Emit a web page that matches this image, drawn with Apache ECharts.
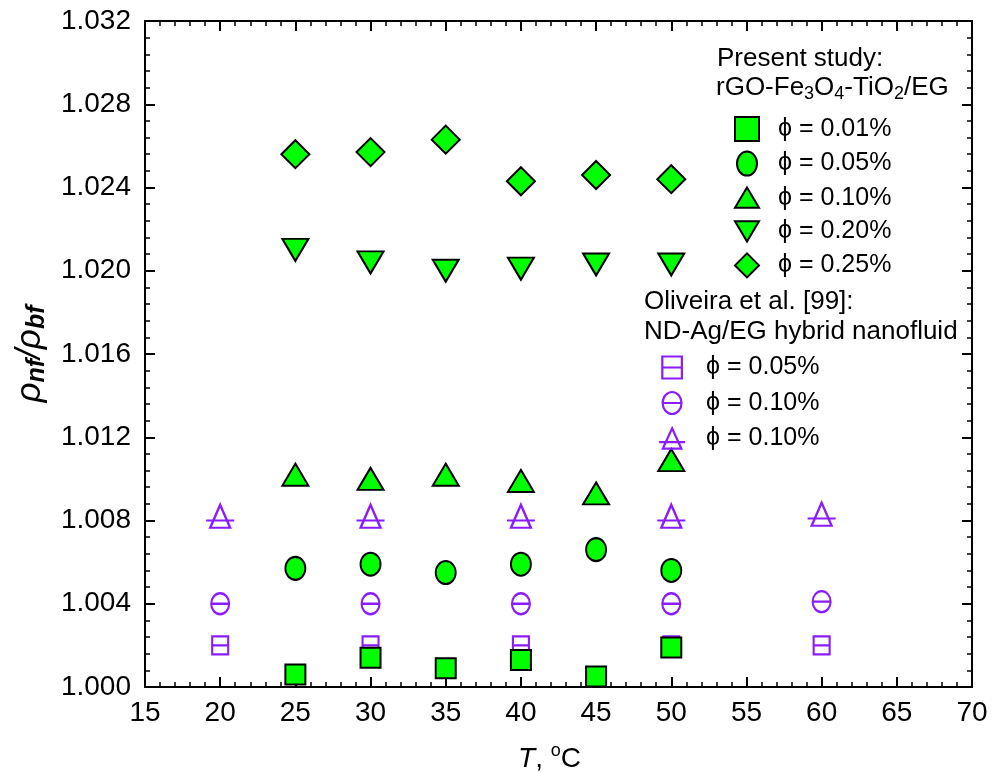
<!DOCTYPE html>
<html>
<head>
<meta charset="utf-8">
<script src="https://cdn.jsdelivr.net/npm/echarts@6/dist/echarts.min.js"></script>
<style>
  html, body { margin: 0; padding: 0; background: #ffffff; }
  #chart { width: 992px; height: 773px; }
</style>
</head>
<body>
<div id="chart"></div>
<script>
// Temperatures (°C) for the present rGO-Fe3O4-TiO2/EG measurements
const temps = [25, 30, 35, 40, 45, 50];
// Density ratio rho_nf / rho_bf per volume fraction
const phi001 = [1.0006, 1.0014, 1.0009, 1.0013, 1.0005, 1.0019];
const phi005 = [1.0057, 1.0059, 1.0055, 1.0059, 1.0066, 1.0056];
const phi010 = [1.0102, 1.0100, 1.0102, 1.0099, 1.0093, 1.0109];
const phi020 = [1.0210, 1.0204, 1.0200, 1.0201, 1.0203, 1.0203];
const phi025 = [1.0256, 1.0257, 1.0263, 1.0243, 1.0246, 1.0244];

// Oliveira et al. ND-Ag/EG hybrid nanofluid
const oliTemps = [20, 30, 40, 50, 60];
const oli005 = [1.0020, 1.0020, 1.0020, 1.0020, 1.0020];
const oli010a = [1.0040, 1.0040, 1.0040, 1.0040, 1.0041];
const oli010b = [1.0082, 1.0082, 1.0082, 1.0082, 1.0083];

// Axis ticks
const xTicks = { min: 15, max: 70, step: 5 };
const yTicks = { min: 1.000, max: 1.032, step: 0.004 };

// Legend labels
const presentLabels = ['ϕ = 0.01%', 'ϕ = 0.05%', 'ϕ = 0.10%', 'ϕ = 0.20%', 'ϕ = 0.25%'];
const oliveiraLabels = ['ϕ = 0.05%', 'ϕ = 0.10%', 'ϕ = 0.10%'];

const FONT = "'Liberation Sans', Arial, sans-serif";
const GREEN = '#00ff00';
const PURPLE = '#8a1cff';

const pairs = (xs, ys) => xs.map((x, i) => [x, ys[i]]);

// marker outlines
const ellipse = 'path://M0,12 A10,12 0 1,1 20,12 A10,12 0 1,1 0,12 Z';
const triUp = 'path://M13,0 L26,22 L0,22 Z';
const triDown = 'path://M0,0 L26,0 L13,22 Z';
const sqLine = 'path://M0,0 L16,0 L16,18 L0,18 Z M0,9 L16,9';
const circLine = 'path://M0,10.5 A9,10.5 0 1,1 18,10.5 A9,10.5 0 1,1 0,10.5 Z M0,10.5 L18,10.5';
const triLine = 'path://M14,0 L24,22 L4,22 Z M0,15 L28,15';

const greenStyle = { color: GREEN, borderColor: '#000', borderWidth: 2, opacity: 1 };
const purpleStyle = { color: 'rgba(0,0,0,0)', borderColor: PURPLE, borderWidth: 2.2, opacity: 1 };

const presentSeries = [
  { key: 'P1', data: phi001, symbol: 'rect', size: [20, 20] },
  { key: 'P2', data: phi005, symbol: ellipse, size: [20, 23] },
  { key: 'P3', data: phi010, symbol: triUp, size: [26, 22] },
  { key: 'P4', data: phi020, symbol: triDown, size: [26, 22] },
  { key: 'P5', data: phi025, symbol: 'diamond', size: [28, 28] }
];
const oliSeries = [
  { key: 'O1', data: oli005, symbol: sqLine, size: [16, 18] },
  { key: 'O2', data: oli010a, symbol: circLine, size: [18, 21] },
  { key: 'O3', data: oli010b, symbol: triLine, size: [28, 23] }
];

const series = [];
presentSeries.forEach((s, i) => {
  series.push({
    name: s.key + '|' + presentLabels[i],
    type: 'scatter',
    data: pairs(temps, s.data),
    symbol: s.symbol,
    symbolSize: s.size,
    itemStyle: greenStyle,
    emphasis: { disabled: true },
    z: 3
  });
});
oliSeries.forEach((s, i) => {
  series.push({
    name: s.key + '|' + oliveiraLabels[i],
    type: 'scatter',
    data: pairs(oliTemps, s.data),
    symbol: s.symbol,
    symbolSize: s.size,
    itemStyle: purpleStyle,
    emphasis: { disabled: true },
    z: 2
  });
});

const axisLine = { show: true, lineStyle: { color: '#000', width: 2 } };
const axisTick = { show: true, inside: true, length: 10, lineStyle: { color: '#000', width: 2 } };
const minorTick = (n) => ({ show: true, splitNumber: n, length: 5, lineStyle: { color: '#000', width: 1.5 } });

const labelText = (s) => s.split('|')[1];

const legendItems = (list, style) => list.map((s) => ({
  name: s.name,
  icon: s.symbol,
  itemStyle: style
}));

const chart = echarts.init(document.getElementById('chart'), null, { renderer: 'canvas' });
chart.setOption({
  animation: false,
  backgroundColor: '#fff',
  grid: { left: 145, right: 20, top: 21, bottom: 86, containLabel: false, outerBoundsMode: 'none' },
  xAxis: [
    {
      type: 'value', position: 'bottom',
      min: xTicks.min, max: xTicks.max, interval: xTicks.step,
      axisLine, axisTick, minorTick: minorTick(5), splitLine: { show: false },
      axisLabel: { fontFamily: FONT, fontSize: 28, color: '#000', margin: 12 },
      name: '{it|T}{n|, }{sup|o}{n|C}',
      nameLocation: 'middle', nameGap: 55,
      nameTextStyle: {
        fontFamily: FONT, color: '#000', padding: [0, 18, 0, 0],
        rich: {
          it: { fontFamily: FONT, fontSize: 28, fontStyle: 'italic', lineHeight: 34, color: '#000' },
          n: { fontFamily: FONT, fontSize: 28, lineHeight: 34, color: '#000' },
          sup: { fontFamily: FONT, fontSize: 18, lineHeight: 18, verticalAlign: 'top', color: '#000' }
        }
      }
    },
    {
      type: 'value', position: 'top',
      min: xTicks.min, max: xTicks.max, interval: xTicks.step,
      axisLine, axisTick, minorTick: minorTick(5), splitLine: { show: false },
      axisLabel: { show: false }
    }
  ],
  yAxis: [
    {
      type: 'value', position: 'left',
      min: yTicks.min, max: yTicks.max, interval: yTicks.step,
      axisLine, axisTick, minorTick: minorTick(5), splitLine: { show: false },
      axisLabel: {
        fontFamily: FONT, fontSize: 28, color: '#000', margin: 14,
        formatter: (v) => v.toFixed(3)
      },
      name: '{i|ρ}{s|nf}{i|/ρ}{s|bf}',
      nameLocation: 'middle', nameGap: 92, nameRotate: 90,
      nameTextStyle: {
        fontFamily: FONT, color: '#000',
        rich: {
          i: { fontFamily: FONT, fontSize: 35, fontStyle: 'italic', lineHeight: 40, color: '#000' },
          s: { fontFamily: FONT, fontSize: 25, fontStyle: 'italic', fontWeight: 'bold', lineHeight: 25, verticalAlign: 'bottom', color: '#000' }
        }
      }
    },
    {
      type: 'value', position: 'right',
      min: yTicks.min, max: yTicks.max, interval: yTicks.step,
      axisLine, axisTick, minorTick: minorTick(5), splitLine: { show: false },
      axisLabel: { show: false }
    }
  ],
  legend: [
    {
      orient: 'vertical', left: 734, top: 116, padding: 0,
      itemWidth: 24, itemHeight: 24, itemGap: 8.6,
      selectedMode: false,
      data: legendItems(presentSeries.map((s, i) => ({ name: series[i].name, symbol: s.symbol })), greenStyle),
      formatter: labelText,
      textStyle: { fontFamily: FONT, fontSize: 25, color: '#000', lineHeight: 24, padding: [0, 0, 0, 14] }
    },
    {
      orient: 'vertical', left: 658, top: 355, padding: 0,
      itemWidth: 26, itemHeight: 22, itemGap: 10.5,
      selectedMode: false,
      data: legendItems(oliSeries.map((s, i) => ({ name: series[5 + i].name, symbol: s.symbol })), purpleStyle),
      formatter: labelText,
      textStyle: { fontFamily: FONT, fontSize: 25, color: '#000', lineHeight: 22, padding: [0, 0, 0, 16] }
    }
  ],
  graphic: [
    {
      type: 'text', left: 717, top: 46,
      style: { text: 'Present study:', font: '26px ' + FONT, fill: '#000' }
    },
    {
      type: 'text', left: 716, top: 75,
      style: {
        text: '{n|rGO-Fe}{s|3}{n|O}{s|4}{n|-TiO}{s|2}{n|/EG}',
        rich: {
          n: { fontFamily: FONT, fontSize: 26, lineHeight: 30, fill: '#000' },
          s: { fontFamily: FONT, fontSize: 18, lineHeight: 16, verticalAlign: 'bottom', fill: '#000' }
        }
      }
    },
    {
      type: 'text', left: 644, top: 289,
      style: { text: 'Oliveira et al. [99]:', font: '26px ' + FONT, fill: '#000' }
    },
    {
      type: 'text', left: 644, top: 319,
      style: { text: 'ND-Ag/EG hybrid nanofluid', font: '26px ' + FONT, fill: '#000' }
    }
  ],
  series
});
</script>
</body>
</html>
